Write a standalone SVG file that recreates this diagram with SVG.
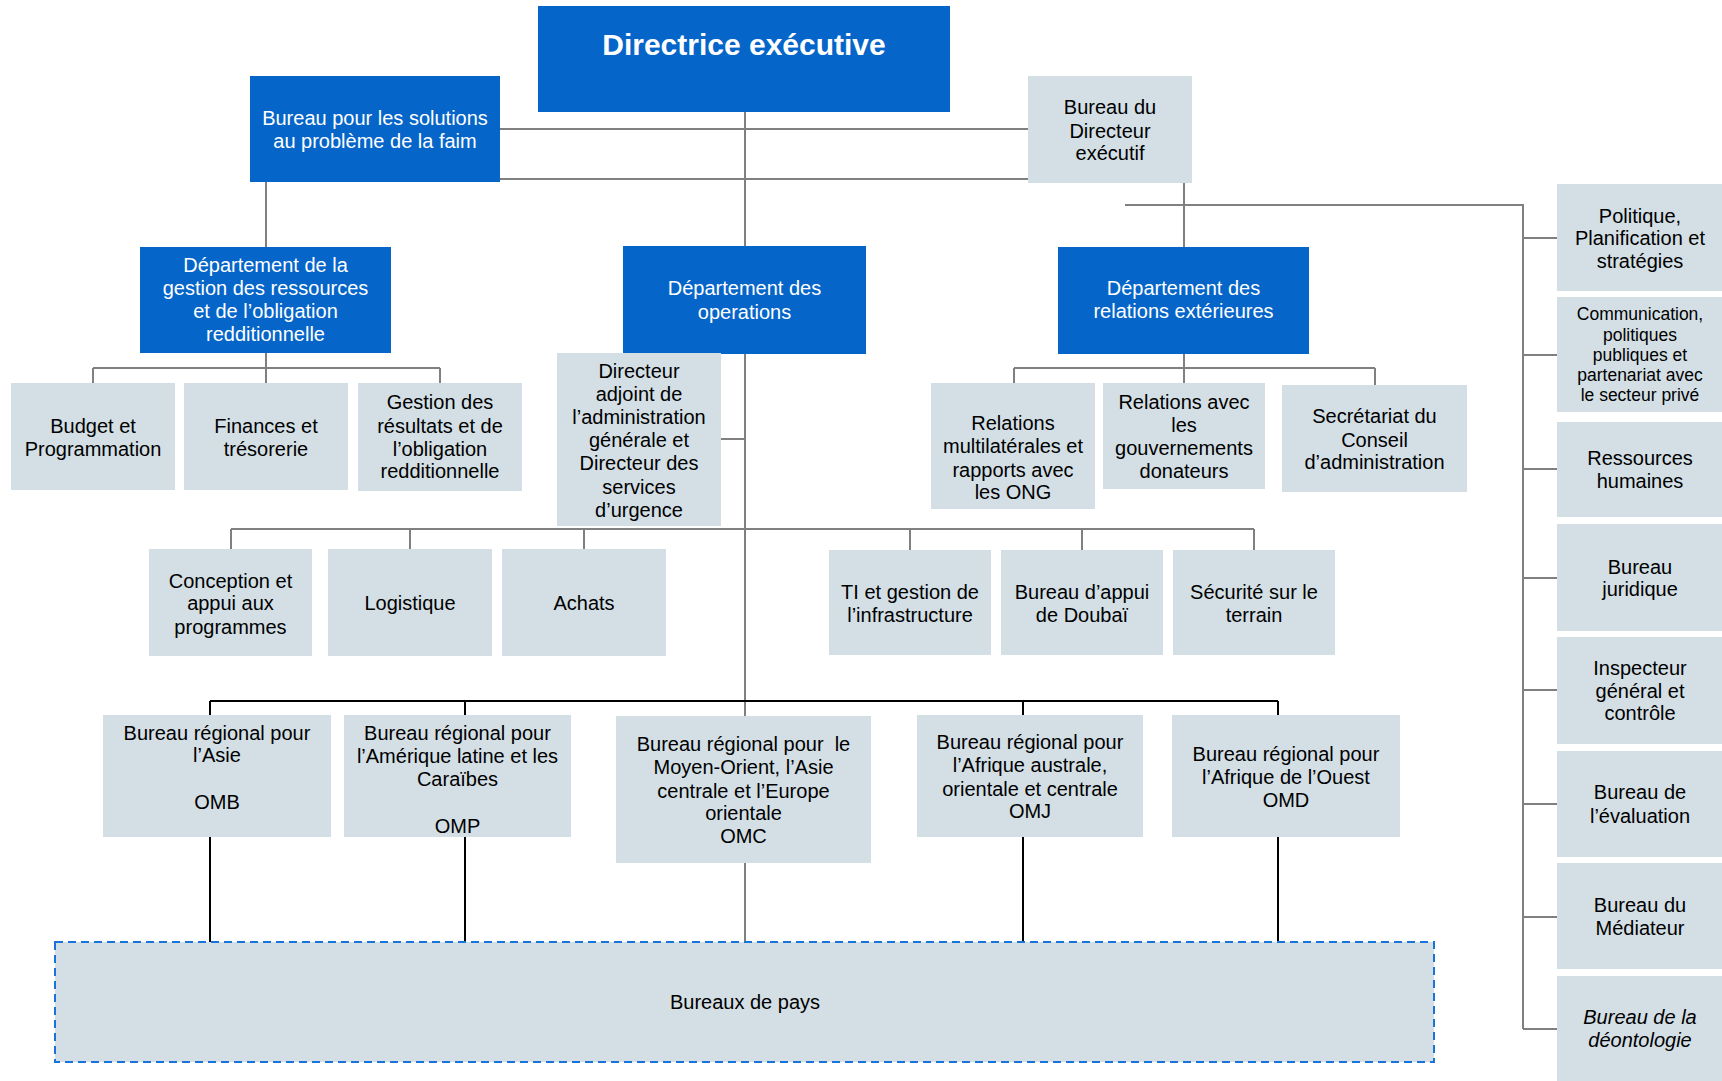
<svg xmlns="http://www.w3.org/2000/svg" width="1722" height="1081" viewBox="0 0 1722 1081">
<style>
.b{fill:#0565C9}
.g{fill:#D3DFE5}
text{font-family:"Liberation Sans",Arial,sans-serif;font-size:20px;text-anchor:middle}
.w{fill:#FFFFFF}
.k{fill:#000000}
.c{stroke:#808080;stroke-width:2;fill:none}
.d{stroke:#000000;stroke-width:2;fill:none}
</style>
<rect width="1722" height="1081" fill="#FFFFFF"/>
<g id="connectors">
<path class="c" d="M500 129H1028M500 179H1028M745 112V246M266 182V247M1184 183V247"/>
<path class="c" d="M1125 205H1523V1029M1523 238H1557M1523 355H1557M1523 469H1557M1523 578H1557M1523 690H1557M1523 804H1557M1523 917H1557M1523 1029H1557"/>
<path class="c" d="M266 353V368M93 368H440M93 368V383M266 368V383M440 368V383"/>
<path class="c" d="M1184 354V368M1014 368H1375M1014 368V383M1184 368V383M1375 368V385"/>
<path class="c" d="M745 354V716M721 439H745"/>
<path class="c" d="M231 529H1254M231 529V549M410 529V549M584 529V549M910 529V550M1082 529V550M1254 529V550"/>
<path class="d" d="M210 701H1278M210 701V715M465 701V715M1023 701V715M1278 701V715"/>
<path class="d" d="M210 837V942M465 837V942M1023 837V942M1278 837V942"/>
<path class="c" d="M745 863V942"/>
</g>
<g id="exec"><rect class="b" x="538" y="6" width="412" height="106"/><text class="w" x="744" y="55" font-weight="bold" style="font-size:30px">Directrice exécutive</text></g>
<g id="faim"><rect class="b" x="250" y="76" width="250" height="106"/><text class="w" x="375" y="125">Bureau pour les solutions</text><text class="w" x="375" y="148">au problème de la faim</text></g>
<g id="dde"><rect class="g" x="1028" y="76" width="164" height="107"/><text class="k" x="1110" y="114">Bureau du</text><text class="k" x="1110" y="138">Directeur</text><text class="k" x="1110" y="160">exécutif</text></g>
<g id="rgd"><rect class="b" x="140" y="247" width="251" height="106"/><text class="w" x="265.5" y="272">Département de la</text><text class="w" x="265.5" y="295">gestion des ressources</text><text class="w" x="265.5" y="318">et de l’obligation</text><text class="w" x="265.5" y="341">redditionnelle</text></g>
<g id="ops"><rect class="b" x="623" y="246" width="243" height="108"/><text class="w" x="744.5" y="295">Département des</text><text class="w" x="744.5" y="319">operations</text></g>
<g id="rex"><rect class="b" x="1058" y="247" width="251" height="107"/><text class="w" x="1183.5" y="295">Département des</text><text class="w" x="1183.5" y="318">relations extérieures</text></g>
<g id="budget"><rect class="g" x="11" y="383" width="164" height="107"/><text class="k" x="93" y="433">Budget et</text><text class="k" x="93" y="456">Programmation</text></g>
<g id="finances"><rect class="g" x="184" y="383" width="164" height="107"/><text class="k" x="266" y="433">Finances et</text><text class="k" x="266" y="456">trésorerie</text></g>
<g id="gestion"><rect class="g" x="358" y="383" width="164" height="108"/><text class="k" x="440" y="409">Gestion des</text><text class="k" x="440" y="433">résultats et de</text><text class="k" x="440" y="456">l’obligation</text><text class="k" x="440" y="478">redditionnelle</text></g>
<g id="dadj"><rect class="g" x="557" y="353" width="164" height="173"/><text class="k" x="639" y="378">Directeur</text><text class="k" x="639" y="401">adjoint de</text><text class="k" x="639" y="424">l’administration</text><text class="k" x="639" y="447">générale et</text><text class="k" x="639" y="470">Directeur des</text><text class="k" x="639" y="494">services</text><text class="k" x="639" y="517">d’urgence</text></g>
<g id="relmulti"><rect class="g" x="931" y="383" width="164" height="126"/><text class="k" x="1013" y="430">Relations</text><text class="k" x="1013" y="453">multilatérales et</text><text class="k" x="1013" y="477">rapports avec</text><text class="k" x="1013" y="499">les ONG</text></g>
<g id="relgouv"><rect class="g" x="1103" y="383" width="162" height="106"/><text class="k" x="1184" y="409">Relations avec</text><text class="k" x="1184" y="432">les</text><text class="k" x="1184" y="455">gouvernements</text><text class="k" x="1184" y="478">donateurs</text></g>
<g id="secr"><rect class="g" x="1282" y="385" width="185" height="107"/><text class="k" x="1374.5" y="423">Secrétariat du</text><text class="k" x="1374.5" y="447">Conseil</text><text class="k" x="1374.5" y="469">d’administration</text></g>
<g id="concep"><rect class="g" x="149" y="549" width="163" height="107"/><text class="k" x="230.5" y="588">Conception et</text><text class="k" x="230.5" y="610">appui aux</text><text class="k" x="230.5" y="634">programmes</text></g>
<g id="logist"><rect class="g" x="328" y="549" width="164" height="107"/><text class="k" x="410" y="610">Logistique</text></g>
<g id="achats"><rect class="g" x="502" y="549" width="164" height="107"/><text class="k" x="584" y="610">Achats</text></g>
<g id="ti"><rect class="g" x="829" y="550" width="162" height="105"/><text class="k" x="910" y="599">TI et gestion de</text><text class="k" x="910" y="622">l’infrastructure</text></g>
<g id="appui"><rect class="g" x="1001" y="550" width="162" height="105"/><text class="k" x="1082" y="599">Bureau d’appui</text><text class="k" x="1082" y="622">de Doubaï</text></g>
<g id="securite"><rect class="g" x="1173" y="550" width="162" height="105"/><text class="k" x="1254" y="599">Sécurité sur le</text><text class="k" x="1254" y="622">terrain</text></g>
<g id="asie"><rect class="g" x="103" y="715" width="228" height="122"/><text class="k" x="217" y="740">Bureau régional pour</text><text class="k" x="217" y="762">l’Asie</text><text class="k" x="217" y="809">OMB</text></g>
<g id="amerique"><rect class="g" x="344" y="715" width="227" height="122"/><text class="k" x="457.5" y="740">Bureau régional pour</text><text class="k" x="457.5" y="763">l’Amérique latine et les</text><text class="k" x="457.5" y="786">Caraïbes</text><text class="k" x="457.5" y="833">OMP</text></g>
<g id="moyen"><rect class="g" x="616" y="716" width="255" height="147"/><text class="k" x="743.5" y="751" style="white-space:pre">Bureau régional pour  le</text><text class="k" x="743.5" y="774">Moyen-Orient, l’Asie</text><text class="k" x="743.5" y="798">centrale et l’Europe</text><text class="k" x="743.5" y="820">orientale</text><text class="k" x="743.5" y="843">OMC</text></g>
<g id="afraus"><rect class="g" x="917" y="715" width="226" height="122"/><text class="k" x="1030" y="749">Bureau régional pour</text><text class="k" x="1030" y="772">l’Afrique australe,</text><text class="k" x="1030" y="796">orientale et centrale</text><text class="k" x="1030" y="818">OMJ</text></g>
<g id="afrouest"><rect class="g" x="1172" y="715" width="228" height="122"/><text class="k" x="1286" y="761">Bureau régional pour</text><text class="k" x="1286" y="784">l’Afrique de l’Ouest</text><text class="k" x="1286" y="807">OMD</text></g>
<g id="pays"><rect class="g" x="55" y="942" width="1379" height="120" stroke="#1A73D9" stroke-width="2" stroke-dasharray="8 5"/><text class="k" x="745" y="1009">Bureaux de pays</text></g>
<g id="politique"><rect class="g" x="1557" y="184" width="165" height="107"/><text class="k" x="1640" y="223">Politique,</text><text class="k" x="1640" y="245">Planification et</text><text class="k" x="1640" y="268">stratégies</text></g>
<g id="comm"><rect class="g" x="1557" y="297" width="165" height="115"/><text class="k" x="1640" y="320" style="font-size:17.5px">Communication,</text><text class="k" x="1640" y="341" style="font-size:17.5px">politiques</text><text class="k" x="1640" y="361" style="font-size:17.5px">publiques et</text><text class="k" x="1640" y="381" style="font-size:17.5px">partenariat avec</text><text class="k" x="1640" y="401" style="font-size:17.5px">le secteur privé</text></g>
<g id="rh"><rect class="g" x="1557" y="422" width="165" height="95"/><text class="k" x="1640" y="465">Ressources</text><text class="k" x="1640" y="488">humaines</text></g>
<g id="juridique"><rect class="g" x="1557" y="524" width="165" height="107"/><text class="k" x="1640" y="574">Bureau</text><text class="k" x="1640" y="596">juridique</text></g>
<g id="inspecteur"><rect class="g" x="1557" y="637" width="165" height="107"/><text class="k" x="1640" y="675">Inspecteur</text><text class="k" x="1640" y="698">général et</text><text class="k" x="1640" y="720">contrôle</text></g>
<g id="evaluation"><rect class="g" x="1557" y="751" width="165" height="106"/><text class="k" x="1640" y="799">Bureau de</text><text class="k" x="1640" y="823">l’évaluation</text></g>
<g id="mediateur"><rect class="g" x="1557" y="863" width="165" height="106"/><text class="k" x="1640" y="912">Bureau du</text><text class="k" x="1640" y="935">Médiateur</text></g>
<g id="deontologie"><rect class="g" x="1557" y="976" width="165" height="110"/><text class="k" x="1640" y="1024" font-style="italic">Bureau de la</text><text class="k" x="1640" y="1047" font-style="italic">déontologie</text></g>
</svg>
